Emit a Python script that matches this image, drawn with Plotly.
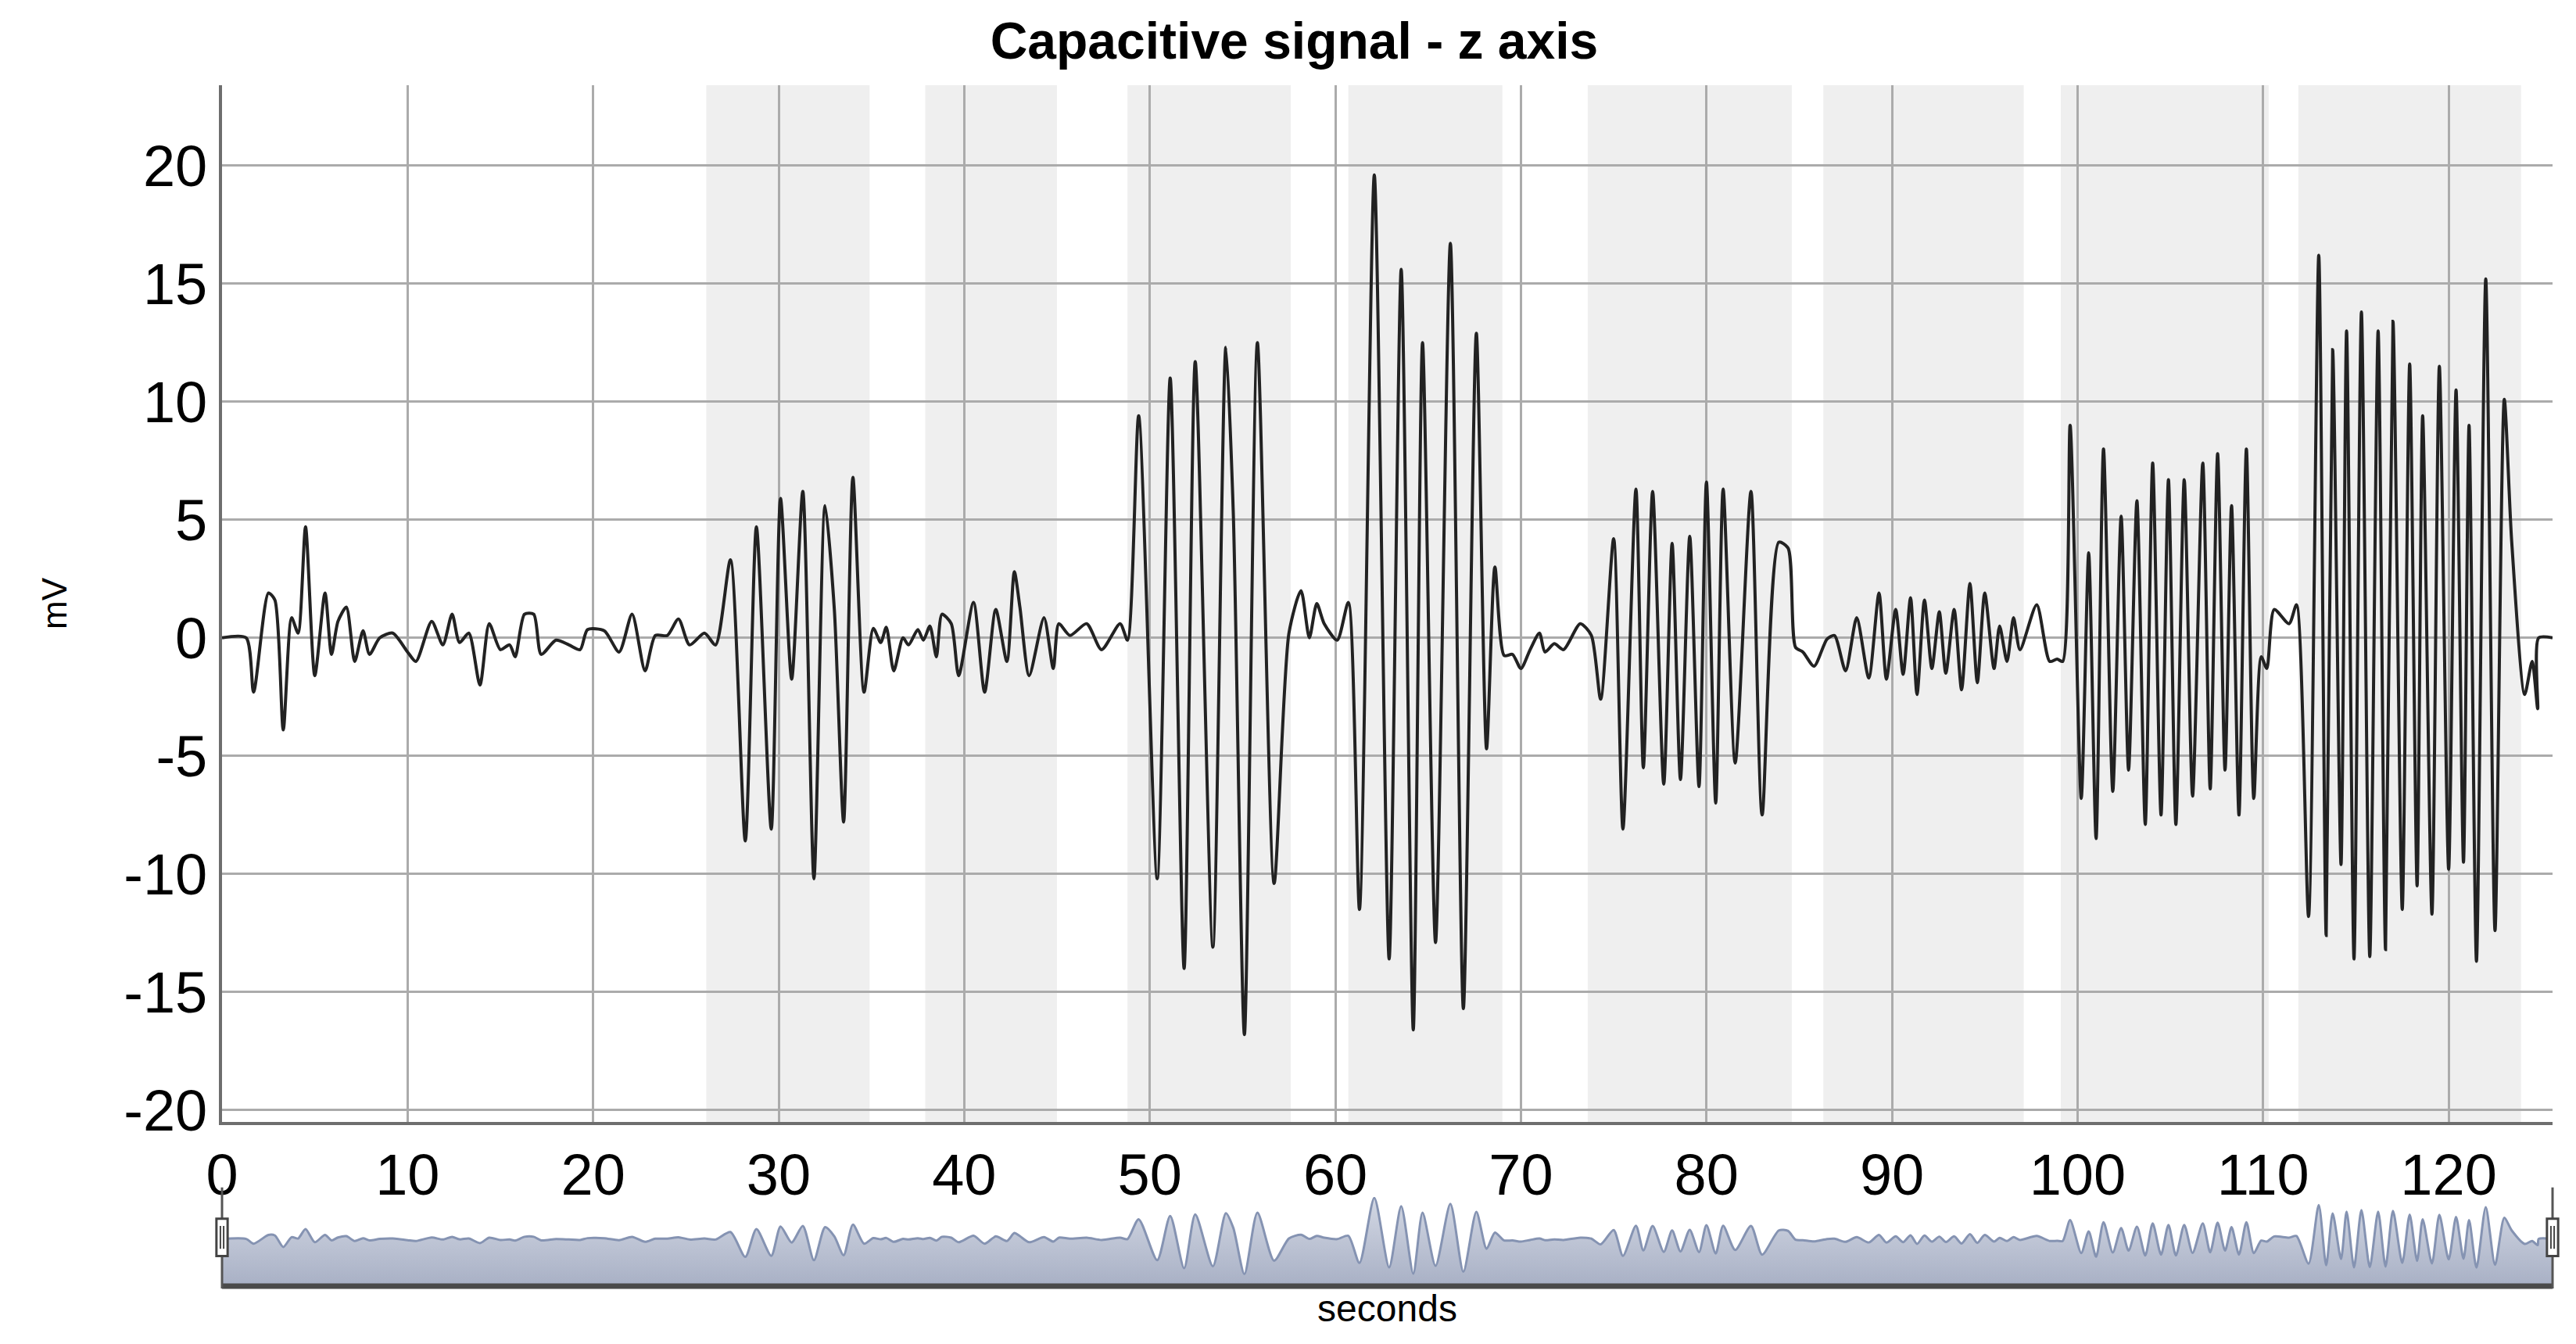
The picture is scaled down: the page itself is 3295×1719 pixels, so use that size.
import plotly.graph_objects as go

# time (s) of signal turning points and their values (mV)
T = [0, 1.3, 1.7, 2.5, 2.85, 3.3, 3.75, 4.1, 4.5, 5.0, 5.55, 5.9, 6.25, 6.7, 7.15, 7.6, 7.95, 8.5, 9.2, 10.0,
     10.45, 11.3, 11.9, 12.4, 12.8, 13.3, 13.9, 14.4, 15.0, 15.5, 15.8, 16.3, 16.8, 17.2, 18.0, 18.7, 19.3, 19.7,
     20.6, 21.4, 22.1, 22.8, 23.35, 24.0, 24.6, 25.2, 26.0, 26.6, 27.4, 28.2, 28.8, 29.6, 30.1, 30.7, 31.3, 31.9,
     32.5, 33.0, 33.5, 34.0, 34.6, 35.1, 35.5, 35.8, 36.2, 36.7, 37.0, 37.5, 37.8, 38.15, 38.5, 38.8, 39.3, 39.7,
     40.5, 41.1, 41.7, 42.3, 42.7, 43.0, 43.5, 44.3, 44.8, 45.1, 45.7, 46.6, 47.4, 48.4, 48.8, 49.4, 50.4, 51.1,
     51.85, 52.45, 53.4, 54.1, 54.5, 55.1, 55.8, 56.7, 57.5, 58.15, 58.6, 59.0, 59.4, 60.1, 60.7, 61.3, 62.1,
     62.9, 63.55, 64.2, 64.7, 65.4, 66.2, 66.9, 67.6, 68.15, 68.6, 69.1, 69.55, 70.0, 70.5, 71.0, 71.3, 71.8,
     72.3, 73.2, 73.8, 74.3, 75.0, 75.5, 76.2, 76.6, 77.1, 77.7, 78.15, 78.6, 79.1, 79.6, 80.0, 80.5, 80.9,
     81.55, 82.4, 83.0, 83.9, 84.4, 84.8, 85.2, 85.8, 86.5, 86.9, 87.5, 88.1, 88.75, 89.3, 89.7, 90.2, 90.6,
     91.0, 91.35, 91.75, 92.15, 92.55, 92.9, 93.35, 93.75, 94.2, 94.6, 95.0, 95.5, 95.8, 96.2, 96.55, 96.9,
     97.8, 98.5, 98.9, 99.2, 99.6, 100.2, 100.6, 101.0, 101.4, 101.9, 102.35, 102.75, 103.2, 103.65, 104.05,
     104.5, 104.9, 105.3, 105.75, 106.2, 106.75, 107.15, 107.55, 107.95, 108.3, 108.7, 109.1, 109.5, 109.9,
     110.2, 110.6, 111.4, 111.8, 112.45, 113.0, 113.4, 113.75, 114.2, 114.5, 114.9, 115.3, 115.75, 116.2,
     116.6, 117.0, 117.5, 117.9, 118.3, 118.6, 119.1, 119.5, 120.0, 120.4, 120.8, 121.1, 121.5, 122.0, 122.5,
     123.0, 123.4, 124.1, 124.5, 124.8, 124.85, 125.6]
V = [0, 0, -2.3, 1.9, 1.6, -3.9, 0.85, 0.2, 4.7, -1.6, 1.9, -0.7, 0.7, 1.3, -1.0, 0.3, -0.7, 0, 0.2, -0.6,
     -1.0, 0.7, -0.3, 1.0, -0.2, 0.2, -2.0, 0.6, -0.5, -0.3, -0.8, 1.0, 1.0, -0.7, -0.1, -0.3, -0.5, 0.35,
     0.3, -0.6, 1.0, -1.4, 0.1, 0.1, 0.8, -0.3, 0.2, -0.3, 3.3, -8.6, 4.7, -8.1, 5.9, -1.75, 6.2, -10.2,
     5.6, 1.2, -7.8, 6.8, -2.3, 0.4, -0.2, 0.45, -1.4, 0, -0.3, 0.35, -0.1, 0.5, -0.8, 1.0, 0.6, -1.6,
     1.5, -2.3, 1.2, -1.0, 2.8, 1.3, -1.6, 0.85, -1.3, 0.6, 0.1, 0.6, -0.5, 0.6, -0.1, 9.4, -10.2, 11.0,
     -14.0, 11.7, -13.1, 12.3, 5.3, -16.8, 12.5, -10.4, 0.2, 2.0, 0, 1.45, 0.6, -0.1, 1.5, -11.5, 19.6,
     -13.6, 15.6, -16.6, 12.5, -12.9, 16.7, -15.7, 12.9, -4.7, 3.0, -0.75, -0.7, -1.3, -0.5, 0.2, -0.6, -0.25,
     -0.5, 0.6, 0.1, -2.6, 4.2, -8.1, 6.3, -5.5, 6.2, -6.2, 4.0, -6.0, 4.3, -6.3, 6.6, -7.0, 6.3,
     -5.3, 6.2, -7.5, 4.05, 3.8, -0.4, -0.6, -1.2, -0.05, 0.1, -1.4, 0.85, -1.7, 1.9, -1.75, 1.2, -1.55,
     1.7, -2.4, 1.6, -1.3, 1.1, -1.5, 1.2, -2.2, 2.3, -1.9, 1.9, -1.3, 0.5, -1.0, 0.85, -0.5,
     1.4, -1.0, -0.9, -1.0, 9.0, -6.8, 3.6, -8.5, 8.0, -6.5, 5.15, -5.6, 5.8, -7.9, 7.4,
     -7.5, 6.7, -7.9, 6.7, -6.7, 7.4, -6.4, 7.8, -5.6, 5.6, -7.5, 8.0, -6.8, -0.8,
     -1.3, 1.2, 0.6, 1.4, -11.8, 16.2, -12.6, 12.2, -9.6, 13.0, -13.6, 13.8, -13.5, 13.0,
     -13.2, 13.4, -11.5, 11.6, -10.5, 9.4, -11.7, 11.5, -9.8, 10.5, -9.5, 9.0, -13.7, 15.2, -12.4,
     10.1, 4.05, -2.4, -1.0, -3.0, 0, 0]

BAND_START = [26.1, 37.9, 48.8, 60.7, 73.6, 86.3, 99.1, 111.9]
BAND_END = [34.9, 45.0, 57.6, 69.0, 84.6, 97.1, 110.3, 123.9]
X_TICKS = [0, 10, 20, 30, 40, 50, 60, 70, 80, 90, 100, 110, 120]
Y_TICKS = [-20, -15, -10, -5, 0, 5, 10, 15, 20]
Y_TICK_TEXT = ["-20", "-15", "-10", "-5", "0", "5", "10", "15", "20"]
XMAX = 125.6

FONT = "Liberation Sans"
fig = go.Figure()
fig.add_trace(go.Scatter(x=T, y=V, mode="lines", line=dict(color="#222222", width=4, shape="spline", smoothing=0.7),
                         xaxis="x", yaxis="y", showlegend=False))
# navigator
fig.add_trace(go.Scatter(x=[0, XMAX], y=[-23.7, -23.7], mode="lines", line=dict(width=0),
                         xaxis="x2", yaxis="y2", showlegend=False, hoverinfo="skip"))
fig.add_trace(go.Scatter(x=T, y=V, mode="lines", fill="tonexty",
                         fillgradient=dict(type="vertical", colorscale=[[0, "#a7afc4"], [1, "#d3d8e4"]]),
                         line=dict(color="#8593b2", width=3, shape="spline", smoothing=0.7),
                         xaxis="x2", yaxis="y2", showlegend=False))

shapes = []
for s, e in zip(BAND_START, BAND_END):
    shapes.append(dict(type="rect", xref="x", yref="paper", x0=s, x1=e, y0=0.1384, y1=1,
                       fillcolor="#efefef", line_width=0, layer="below"))
shapes.append(dict(type="line", xref="paper", yref="paper", x0=0, x1=1, y0=0.002, y1=0.002,
                   line=dict(color="#4a4a4a", width=7)))
for hx in [0, 1]:
    shapes.append(dict(type="line", xref="paper", yref="paper", x0=hx, x1=hx, y0=0.0, y1=0.084,
                       line=dict(color="#555", width=3)))
    shapes.append(dict(type="rect", xref="paper", yref="paper", x0=hx - 0.0024, x1=hx + 0.0024,
                       y0=0.027, y1=0.058, line=dict(color="#444", width=3), fillcolor="white"))
    for dx in [-0.0007, 0.0007]:
        shapes.append(dict(type="line", xref="paper", yref="paper", x0=hx + dx, x1=hx + dx,
                           y0=0.033, y1=0.052, line=dict(color="#444", width=2)))
fig.update_layout(shapes=shapes)

fig.update_layout(
    width=3295, height=1719, paper_bgcolor="white", plot_bgcolor="white",
    margin=dict(l=276, r=38, t=101, b=79),
    font=dict(family=FONT, color="black"),
    title=dict(text="<b>Capacitive signal - z axis</b>", x=0.5, xanchor="center", y=0.988, yanchor="top",
               font=dict(size=66, family=FONT)),
    xaxis=dict(range=[0, XMAX], tickvals=X_TICKS, showgrid=True, gridcolor="#ababab", gridwidth=3,
               showline=True, linecolor="#6e6e6e", linewidth=4, tickfont=dict(size=74), ticks="",
               zeroline=False, anchor="y"),
    yaxis=dict(domain=[0.1384, 1], range=[-20.5, 23.4], tickvals=Y_TICKS, ticktext=Y_TICK_TEXT,
               showgrid=True, gridcolor="#ababab",
               gridwidth=3, showline=True, linecolor="#6e6e6e", linewidth=4, tickfont=dict(size=74),
               zeroline=False, ticks="", title=dict(text="mV", font=dict(size=44), standoff=60)),
    xaxis2=dict(range=[0, XMAX], anchor="y2", showticklabels=False, showgrid=False, zeroline=False,
                title=dict(text="seconds", font=dict(size=48), standoff=8)),
    yaxis2=dict(domain=[0, 0.076], range=[-23.7, 20], showticklabels=False, showgrid=False, zeroline=False),
)
fig.write_html("out.html")
